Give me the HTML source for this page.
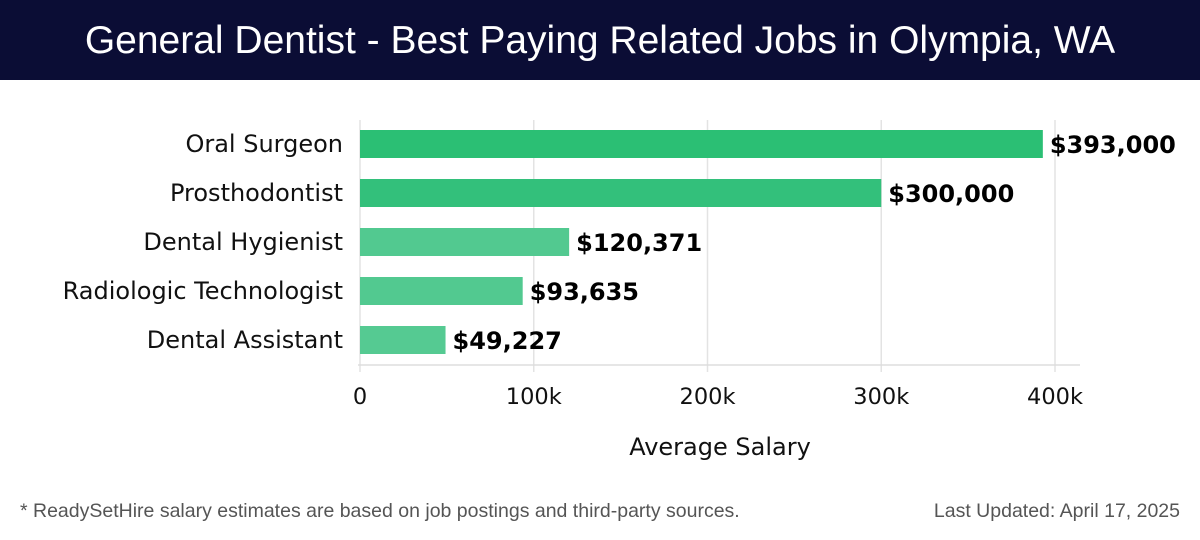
<!DOCTYPE html>
<html><head><meta charset="utf-8"><style>
body{margin:0;width:1200px;height:540px;background:#fff;overflow:hidden;font-family:"DejaVu Sans","Liberation Sans",sans-serif}
#hdr{position:absolute;left:0;top:0;width:1200px;height:80px;background:#0b0d35;color:#fff;font:300 39px "Liberation Sans","DejaVu Sans",sans-serif;text-align:center;line-height:82px}
.ft{position:absolute;top:500px;font:19.5px "Liberation Sans",sans-serif;color:#555}
</style></head><body>
<div id="hdr">General Dentist - Best Paying Related Jobs in Olympia, WA</div>
<svg id="chart" width="1200" height="540" style="position:absolute;left:0;top:0"></svg>
<div class="ft" style="left:20px">* ReadySetHire salary estimates are based on job postings and third-party sources.</div>
<div class="ft" style="right:20px">Last Updated: April 17, 2025</div>
<script>
const categories=["Oral Surgeon","Prosthodontist","Dental Hygienist","Radiologic Technologist","Dental Assistant"];
const values=[393000,300000,120371,93635,49227];
const valueLabels=["$393,000","$300,000","$120,371","$93,635","$49,227"];
const ticks=[0,100000,200000,300000,400000];
const tickLabels=["0","100k","200k","300k","400k"];
const colors=["#2bbf74","#33c07b","#52c990","#52c990","#55ca92"];
const svg=document.getElementById('chart');const NS='http://www.w3.org/2000/svg';
const x=v=>360+v*(1055-360)/400000;
const yTop=i=>130+i*49;
function mk(t,a,txt){const e=document.createElementNS(NS,t);for(const k in a)e.setAttribute(k,a[k]);if(txt!=null)e.textContent=txt;svg.appendChild(e);return e;}
ticks.forEach((t,i)=>{
 const g=mk('line',{x1:x(t),x2:x(t),y1:120,y2:372,stroke:'#e3e3e3','stroke-width':1.5});
 
 const l=mk('text',{x:x(t),y:404,'text-anchor':'middle','font-size':22.5,fill:'#111'},tickLabels[i]);
 
});
const ax=mk('line',{x1:358,x2:1080,y1:365,y2:365,stroke:'#ddd','stroke-width':1.5});

categories.forEach((c,i)=>{
 const r=mk('rect',{x:x(0),y:yTop(i),width:x(values[i])-x(0),height:28,fill:colors[i]});
 
 const l=mk('text',{x:343,y:yTop(i)+22,'text-anchor':'end','font-size':24,fill:'#111'},c);
 
 const v=mk('text',{x:x(values[i])+7,y:yTop(i)+23,'font-size':24,'font-weight':'bold',fill:'#000'},valueLabels[i]);
 
});
const at=mk('text',{x:720,y:455,'text-anchor':'middle','font-size':24,fill:'#111'},'Average Salary');

</script>
</body></html>
